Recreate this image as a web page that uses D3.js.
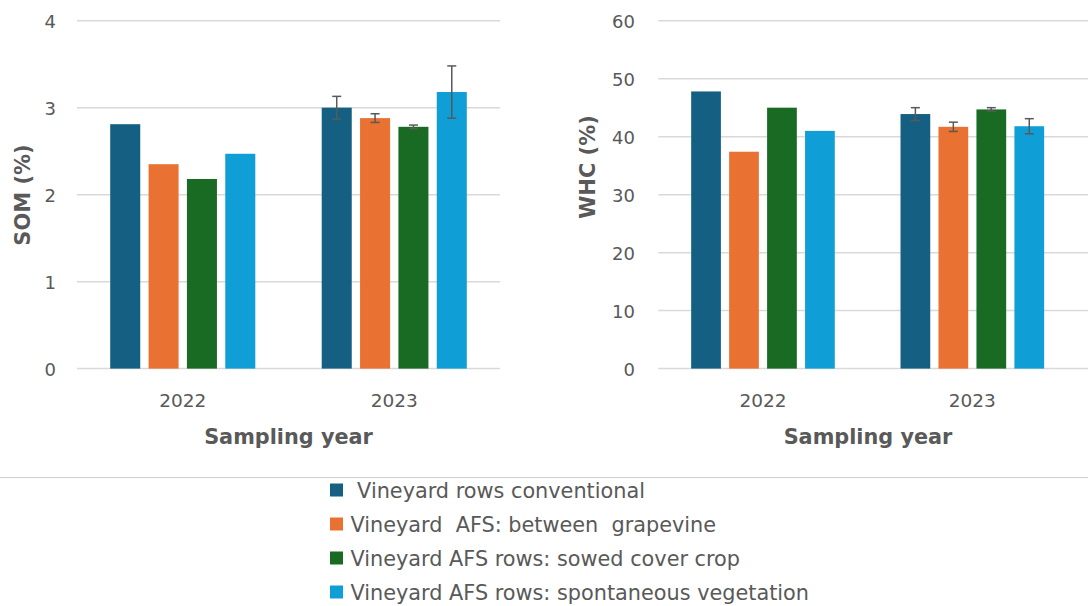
<!DOCTYPE html>
<html>
<head>
<meta charset="utf-8">
<script src="https://cdn.jsdelivr.net/npm/d3@7/dist/d3.min.js"></script>
<style>
  html, body { margin: 0; padding: 0; background: #fff; }
  svg { display: block; }
  text { font-family: "DejaVu Sans", sans-serif; fill: #595959; }
</style>
</head>
<body>
<svg id="chart" width="1088" height="606"></svg>
<script>
// ---- Data ----
const categories = ["2022", "2023"];
const seriesNames = [
  " Vineyard rows conventional",
  "Vineyard  AFS: between  grapevine",
  "Vineyard AFS rows: sowed cover crop",
  "Vineyard AFS rows: spontaneous vegetation"
];
const seriesColors = ["#156082", "#E97132", "#196B24", "#0F9ED5"];

const som2022 = [2.81, 2.35, 2.18, 2.47];
const som2023 = [3.00, 2.88, 2.78, 3.18];
const somErr2022 = [null, null, null, null];
const somErr2023 = [0.13, 0.05, 0.02, 0.30];
const somTicks = [0, 1, 2, 3, 4];

const whc2022 = [47.8, 37.4, 45.0, 41.0];
const whc2023 = [43.9, 41.7, 44.7, 41.8];
const whcErr2022 = [null, null, null, null];
const whcErr2023 = [1.1, 0.8, 0.3, 1.3];
const whcTicks = [0, 10, 20, 30, 40, 50, 60];

// ---- Drawing ----
const svg = d3.select("#chart");
const FONT = "DejaVu Sans, sans-serif";

function panel(opts) {
  const { x0r, gridRight, yMax, ticks, values, errors, yTitle, yTitlePos, xTitlePos } = opts;
  const g = svg.append("g");
  const y = d3.scaleLinear().domain([0, yMax]).range([368.6, 20.7]);
  const x0 = d3.scaleBand().domain(categories).range(x0r).paddingInner(0.314).paddingOuter(0.157);
  const x1 = d3.scaleBand().domain(d3.range(seriesNames.length)).range([0, x0.bandwidth()]).paddingInner(0.217);

  // gridlines
  g.append("g").selectAll("line").data(ticks).join("line")
    .attr("x1", x0r[0]).attr("x2", gridRight)
    .attr("y1", d => y(d)).attr("y2", d => y(d))
    .attr("stroke", "#d9d9d9").attr("stroke-width", 1.5);

  // y axis labels via d3 axis
  const yAxis = d3.axisLeft(y).tickValues(ticks).tickFormat(d3.format("d")).tickSize(0).tickPadding(0);
  const ya = g.append("g").attr("transform", `translate(${opts.yLabelRight},0)`).call(yAxis);
  ya.select(".domain").remove();
  ya.selectAll("text").style("font-size", "18px").attr("fill", "#595959")
    .style("font-family", FONT).attr("dy", "0.36em");

  // x axis labels
  const xAxis = d3.axisBottom(x0).tickSize(0).tickPadding(0);
  const xa = g.append("g").attr("transform", `translate(0,${y(0) + 38})`).call(xAxis);
  xa.select(".domain").remove();
  xa.selectAll("text").style("font-size", "18.5px").attr("fill", "#595959")
    .style("font-family", FONT).attr("dy", 0);

  // bars
  const groups = g.append("g").selectAll("g").data(categories).join("g")
    .attr("transform", d => `translate(${x0(d)},0)`);
  groups.each(function (cat, ci) {
    const gg = d3.select(this);
    const vals = values[ci];
    const errs = errors[ci];
    gg.selectAll("rect").data(vals).join("rect")
      .attr("x", (d, i) => x1(i)).attr("width", x1.bandwidth())
      .attr("y", d => y(d)).attr("height", d => y(0) - y(d))
      .attr("fill", (d, i) => seriesColors[i]);
    const eb = vals.map((v, i) => ({ v, e: errs[i], i })).filter(d => d.e != null);
    const cx = d => x1(d.i) + x1.bandwidth() / 2;
    gg.selectAll("line.v").data(eb).join("line").attr("class", "v")
      .attr("x1", cx).attr("x2", cx)
      .attr("y1", d => y(d.v + d.e)).attr("y2", d => y(d.v - d.e))
      .attr("stroke", "#595959").attr("stroke-width", 1.5);
    [1, -1].forEach(s => {
      gg.selectAll("line.c" + (s > 0 ? "t" : "b")).data(eb).join("line").attr("class", "c" + (s > 0 ? "t" : "b"))
        .attr("x1", d => cx(d) - 4.5).attr("x2", d => cx(d) + 4.5)
        .attr("y1", d => y(d.v + s * d.e)).attr("y2", d => y(d.v + s * d.e))
        .attr("stroke", "#595959").attr("stroke-width", 1.5);
    });
  });

  // titles
  g.append("text").attr("transform", `translate(${yTitlePos[0]},${yTitlePos[1]}) rotate(-90)`)
    .attr("text-anchor", "middle").attr("dy", "0.35em")
    .style("font-size", "21px").style("font-weight", "bold").text(yTitle);
  g.append("text").attr("x", xTitlePos[0]).attr("y", xTitlePos[1])
    .attr("text-anchor", "middle")
    .style("font-size", "20.8px").style("font-weight", "bold").text("Sampling year");
}

panel({
  x0r: [77, 500], gridRight: 500, yMax: 4, ticks: somTicks,
  values: [som2022, som2023], errors: [somErr2022, somErr2023],
  yLabelRight: 56, yTitle: "SOM (%)", yTitlePos: [23, 195], xTitlePos: [288.5, 444]
});
panel({
  x0r: [658.3, 1077], gridRight: 1088, yMax: 60, ticks: whcTicks,
  values: [whc2022, whc2023], errors: [whcErr2022, whcErr2023],
  yLabelRight: 635, yTitle: "WHC (%)", yTitlePos: [588, 167], xTitlePos: [868, 444]
});

// separator line
svg.append("line").attr("x1", 0).attr("x2", 1088).attr("y1", 477.5).attr("y2", 477.5)
  .attr("stroke", "#d0d0d0").attr("stroke-width", 1);

// legend
const legendY = d3.scalePoint().domain(d3.range(seriesNames.length)).range([490, 592]);
const leg = svg.append("g").selectAll("g").data(seriesNames).join("g")
  .attr("transform", (d, i) => `translate(330,${legendY(i)})`);
leg.append("rect").attr("x", 0).attr("y", -6.5).attr("width", 13).attr("height", 13)
  .attr("fill", (d, i) => seriesColors[i]);
leg.append("text").attr("x", 20.5).attr("dy", "0.36em")
  .style("font-size", "20.8px").style("white-space", "pre").text(d => d);
</script>
</body>
</html>
